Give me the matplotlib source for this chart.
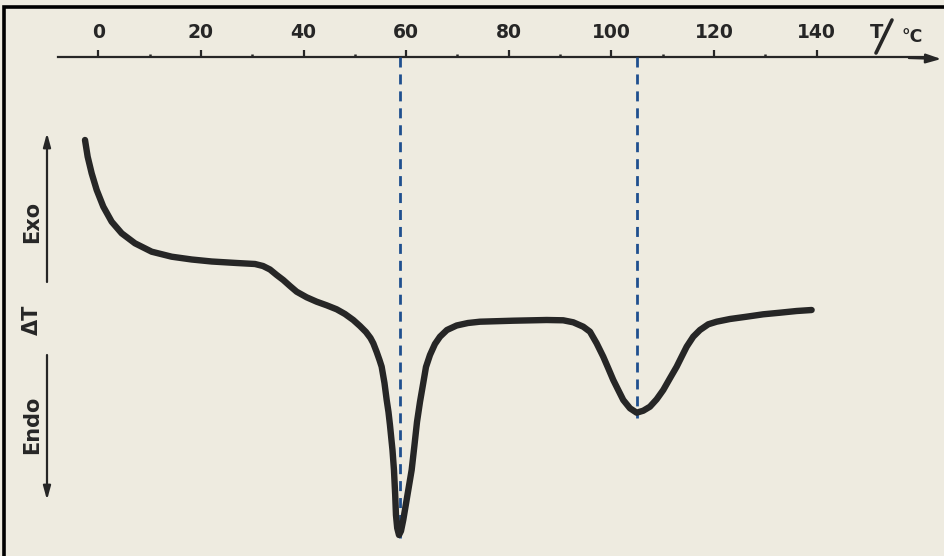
import matplotlib
matplotlib.use("Agg")
import matplotlib.pyplot as plt
import matplotlib.transforms as mtransforms
from matplotlib.ticker import FixedLocator

# ---- data ----
temp_c = [-2.61, -2.09, -1.31, -0.33, 0.96, 2.59, 4.54, 7.13, 10.39, 14.29,
          18.19, 22.09, 26.96, 30.53, 32.09, 33.45, 34.76, 36.04, 37.35,
          38.65, 40.60, 42.55, 44.50, 46.45, 48.07, 49.69, 50.99, 52.16,
          53.04, 53.59, 54.25, 54.80, 55.22, 55.77, 56.20, 56.55, 56.84,
          57.33, 57.62, 57.86, 58.01, 58.25, 58.60, 58.99, 59.43, 60.25,
          61.07, 61.62, 62.11, 62.69, 63.33, 63.86, 64.64, 65.61, 66.59,
          67.95, 69.84, 72.05, 74.39, 80.88, 87.39, 90.62, 92.57, 94.52,
          95.83, 97.13, 98.42, 99.40, 100.37, 101.34, 102.32, 103.63, 104.93,
          106.22, 107.52, 108.83, 110.12, 111.42, 112.73, 113.70, 114.68,
          115.96, 117.27, 118.89, 120.53, 123.12, 126.37, 129.61, 132.87,
          136.12, 139.04]
delta_t = [1.800, 1.633, 1.467, 1.300, 1.133, 0.983, 0.867, 0.767, 0.683,
           0.633, 0.605, 0.585, 0.570, 0.560, 0.540, 0.505, 0.450, 0.400,
           0.340, 0.283, 0.227, 0.183, 0.147, 0.107, 0.060, 0.000, -0.060,
           -0.120, -0.180, -0.233, -0.320, -0.400, -0.467, -0.630, -0.800,
           -0.920, -1.050, -1.300, -1.500, -1.750, -1.950, -2.080, -2.150,
           -2.110, -2.000, -1.750, -1.500, -1.250, -1.020, -0.820, -0.630,
           -0.470, -0.350, -0.240, -0.167, -0.100, -0.055, -0.030, -0.017,
           -0.007, 0.000, -0.003, -0.023, -0.067, -0.117, -0.233, -0.367,
           -0.483, -0.600, -0.700, -0.800, -0.883, -0.927, -0.907, -0.867,
           -0.793, -0.700, -0.583, -0.467, -0.367, -0.267, -0.167, -0.100,
           -0.043, -0.017, 0.010, 0.033, 0.057, 0.073, 0.090, 0.100]
peak_temps = [58.8, 105.0]
peak_depths = [-2.18, -0.98]
major_ticks = [0, 20, 40, 60, 80, 100, 120, 140]
minor_ticks = [10, 30, 50, 70, 90, 110, 130]
axis_level = 2.63

BG = "#eeebe0"
INK = "#262626"
W, H = 945, 556

fig = plt.figure(figsize=(W / 100, H / 100), dpi=100, facecolor=BG)
ax = fig.add_axes([0, 0, 1, 1], facecolor=BG)
ax.set_xlim(-19.18, 165.04)
ax.set_ylim(-2.36, 3.20)

# pixel transform for decorations
px = mtransforms.Affine2D().scale(1 / W, -1 / H).translate(0, 1) + fig.transFigure

# spines / top temperature axis
for s in ["left", "right", "bottom"]:
    ax.spines[s].set_visible(False)
ax.spines["top"].set_position(("data", axis_level))
ax.spines["top"].set_bounds(-7.8, 162.0)
ax.spines["top"].set_linewidth(1.6)
ax.spines["top"].set_color(INK)
ax.xaxis.tick_top()
ax.xaxis.set_major_locator(FixedLocator(major_ticks))
ax.xaxis.set_minor_locator(FixedLocator(minor_ticks))
ax.tick_params(axis="x", which="major", direction="out", length=5, width=1.6,
               color=INK, pad=6, labelsize=13.5, labelcolor=INK)
ax.tick_params(axis="x", which="minor", direction="out", length=2.5, width=1.8,
               color=INK)
for lbl in ax.get_xticklabels():
    lbl.set_fontweight("bold")
ax.set_yticks([])

# arrowhead of temperature axis
ax.annotate("", xy=(164.3, axis_level - 0.02), xytext=(158.0, axis_level - 0.01),
            arrowprops=dict(arrowstyle="-|>,head_length=0.9,head_width=0.28",
                            color=INK, lw=1.6, shrinkA=0, shrinkB=0))

# T/°C label
fig.text(877, 33, "T", transform=px, fontsize=14, fontweight="bold", color=INK,
         ha="center", va="center")
fig.add_artist(plt.Line2D([876, 892], [53, 20], transform=px, color=INK, lw=2.6,
                          solid_capstyle="round"))
fig.text(912, 37, "°C", transform=px, fontsize=12.5, fontweight="bold",
         color=INK, ha="center", va="center")

# peak dashed lines
for t, d in zip(peak_temps, peak_depths):
    ax.plot([t, t], [axis_level, d], color="#1f4f8f", lw=2.0,
            dashes=(3.6, 2.5), zorder=3)

# DTA curve
ax.plot(temp_c, delta_t, color=INK, lw=4.6, solid_capstyle="round",
        solid_joinstyle="round", zorder=4)

# left ΔT axis with arrows
arrow_kw = dict(arrowstyle="-|>,head_length=0.8,head_width=0.22", color=INK,
                lw=1.6, shrinkA=0, shrinkB=0)
ax.annotate("", xy=(47, 133), xytext=(47, 282), xycoords=px, textcoords=px,
            arrowprops=arrow_kw)
ax.annotate("", xy=(47, 500), xytext=(47, 355), xycoords=px, textcoords=px,
            arrowprops=arrow_kw)
for label, yy in [("Exo", 222), ("ΔT", 320), ("Endo", 425)]:
    fig.text(32, yy, label, transform=px, rotation=90, fontsize=15,
             fontweight="bold", color=INK, ha="center", va="center")

# frame (top and left edges)
fig.add_artist(plt.Line2D([4, 4, W], [H, 7, 7], transform=px, color="black",
                          lw=2.6, solid_joinstyle="miter"))

fig.savefig("out.png", dpi=100, facecolor=BG)
